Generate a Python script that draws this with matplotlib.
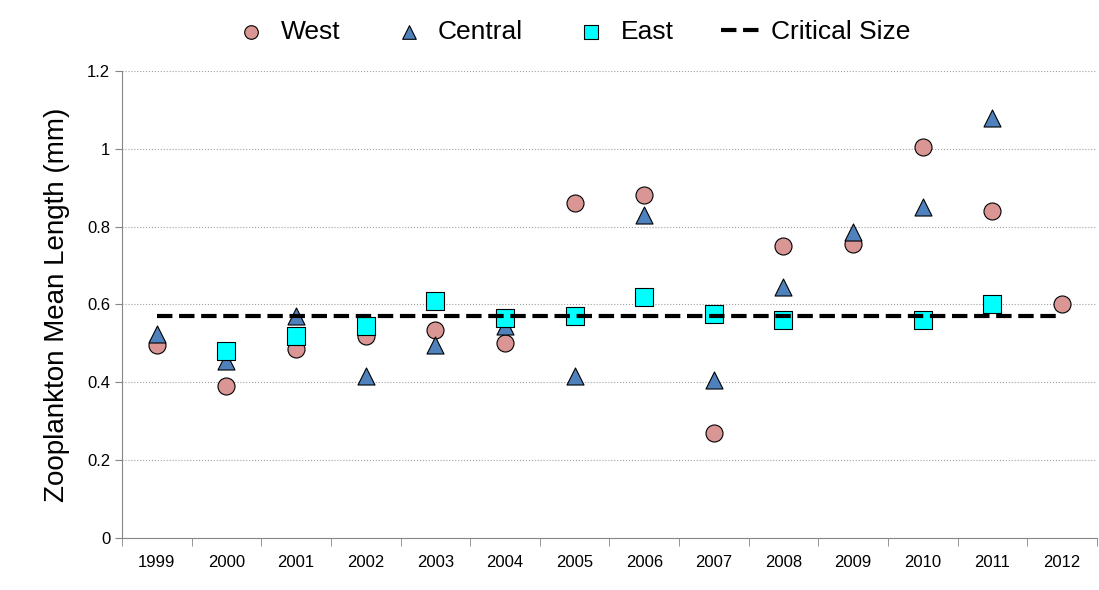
import numpy as np
import matplotlib.pyplot as plt
from matplotlib.ticker import FixedLocator, NullFormatter

plt.rcParams['font.family'] = ['Liberation Sans', 'DejaVu Sans']

years = [str(y) for y in range(1999, 2013)]
west = [0.495, 0.39, 0.485, 0.52, 0.535, 0.50, 0.86, 0.88, 0.27, 0.75, 0.755, 1.005, 0.84, 0.60]
central = [0.525, 0.455, 0.57, 0.415, 0.495, 0.545, 0.415, 0.83, 0.405, 0.645, 0.785, 0.85, 1.08, np.nan]
east = [np.nan, 0.48, 0.52, 0.545, 0.61, 0.565, 0.57, 0.62, 0.575, 0.56, np.nan, 0.56, 0.60, np.nan]
critical = [0.57] * len(years)

x = np.arange(len(years))
fig, ax = plt.subplots(figsize=(10.99, 5.90), dpi=100)
fig.subplots_adjust(left=0.111, right=0.998, top=0.88, bottom=0.088)

ax.scatter(x, west, s=150, marker='o', color='#d99694', edgecolor='black', linewidth=0.8, label='West', zorder=3)
ax.scatter(x, central, s=150, marker='^', color='#4f81bd', edgecolor='black', linewidth=0.8, label='Central', zorder=4)
ax.scatter(x, east, s=150, marker='s', color='#00ffff', edgecolor='black', linewidth=0.8, label='East', zorder=5)
ax.plot(x, critical, 'k--', linewidth=3, label='Critical Size', zorder=6)

ax.set_xlim(-0.5, len(years) - 0.5)
ax.set_ylim(0, 1.2)
ax.set_yticks([0, 0.2, 0.4, 0.6, 0.8, 1.0, 1.2])
ax.set_yticklabels(['0', '0.2', '0.4', '0.6', '0.8', '1', '1.2'], fontsize=12)
ax.set_xticks(x)
ax.set_xticklabels(years, fontsize=12)
ax.tick_params(axis='x', length=0, pad=12)
ax.xaxis.set_minor_locator(FixedLocator(np.arange(-0.5, len(years), 1)))
ax.xaxis.set_minor_formatter(NullFormatter())
ax.tick_params(axis='x', which='minor', length=6, color='#868686')
ax.tick_params(axis='y', length=5, color='#868686')
ax.yaxis.grid(True, linestyle=':', color='#a0a0a0', linewidth=0.8)
ax.set_axisbelow(True)
for s in ['top', 'right']:
    ax.spines[s].set_visible(False)
for s in ['left', 'bottom']:
    ax.spines[s].set_color('#868686')
ax.set_ylabel('Zooplankton Mean Length (mm)', fontsize=20, labelpad=12)

ax.legend(loc='upper center', bbox_to_anchor=(0.46, 1.16), ncol=4, frameon=False,
          fontsize=19, handletextpad=0.3, columnspacing=1.8, markerscale=0.8, handlelength=1.6)

fig.savefig('out.png')
